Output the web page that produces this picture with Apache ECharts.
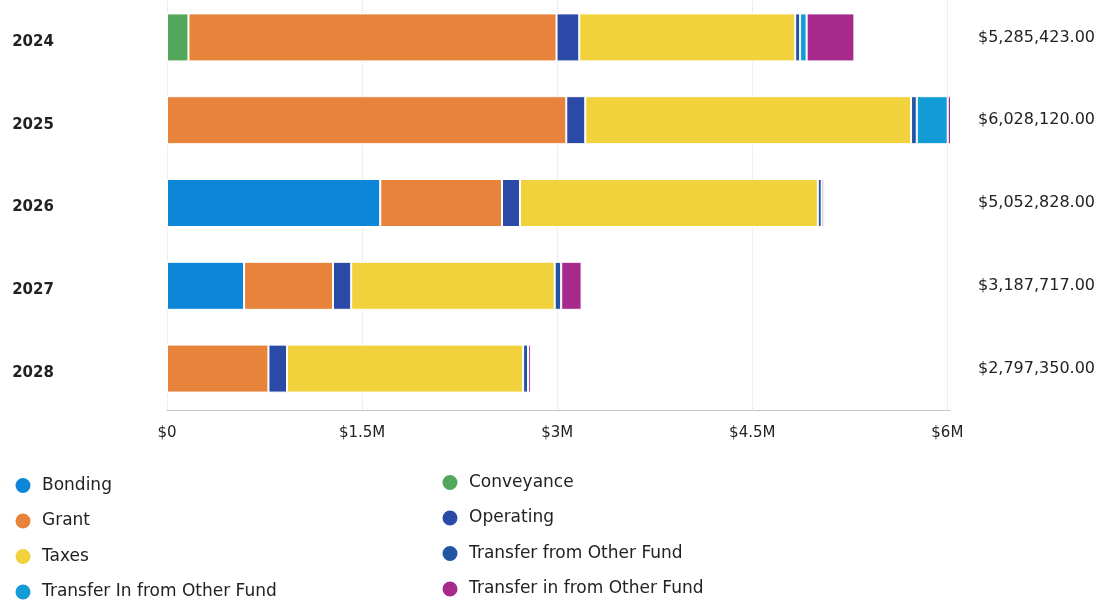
<!DOCTYPE html>
<html>
<head>
<meta charset="utf-8">
<script src="https://cdn.jsdelivr.net/npm/echarts@6/dist/echarts.min.js"></script>
<style>
  html, body { margin: 0; padding: 0; background: #fff; overflow: hidden; }
  /* shifted up so the first bar can sit a few px above the grid's natural top */
  #chart { width: 1101px; height: 614px; margin-top: -10px; }
</style>
</head>
<body>
<div id="chart"></div>
<script>
// categories and values
const years = ['2024', '2025', '2026', '2027', '2028']
const totals = [5285423, 6028120, 5052828, 3187717, 2797350]

const bonding = [0, 0, 1640000, 593000, 0]
const conveyance = [165000, 0, 0, 0, 0]
const grant = [2830000, 3070000, 936000, 683000, 780000]
const operating = [175000, 146000, 138000, 140000, 143000]
const taxes = [1660000, 2505000, 2290000, 1565000, 1815000]
const transferFrom = [38000, 44000, 30000, 50000, 38000]
const transferInUpper = [50000, 238000, 0, 0, 0]
const transferInLower = [367423, 25120, 18828, 156717, 21350]

const xTicks = ['$0', '$1.5M', '$3M', '$4.5M', '$6M']

const seriesList = [
  { name: 'Bonding', data: bonding, color: '#0e86d8' },
  { name: 'Conveyance', data: conveyance, color: '#52a75b' },
  { name: 'Grant', data: grant, color: '#e7833b' },
  { name: 'Operating', data: operating, color: '#2b49a6' },
  { name: 'Taxes', data: taxes, color: '#f1d13c' },
  { name: 'Transfer from Other Fund', data: transferFrom, color: '#1f55a3' },
  { name: 'Transfer In from Other Fund', data: transferInUpper, color: '#129cd6' },
  { name: 'Transfer in from Other Fund', data: transferInLower, color: '#a6298b' }
]

const fontFamily = "'DejaVu Sans', sans-serif"
const textColor = '#222'

function money(v) {
  return '$' + v.toLocaleString('en-US', { minimumFractionDigits: 2, maximumFractionDigits: 2 })
}

const legendBase = {
  orient: 'vertical',
  icon: 'circle',
  padding: 0,
  itemWidth: 28,
  itemHeight: 17,
  itemGap: 16.5,
  height: 140,
  textStyle: { fontSize: 17, color: textColor, fontFamily: fontFamily }
}

const chart = echarts.init(document.getElementById('chart'))

chart.setOption({
  animation: false,
  textStyle: { fontFamily: fontFamily },
  grid: {
    left: 167,
    right: 150,
    top: 6,
    height: 414
  },
  legend: [
    Object.assign({}, legendBase, {
      left: 13.5,
      top: 486,
      data: ['Bonding', 'Grant', 'Taxes', 'Transfer In from Other Fund']
    }),
    Object.assign({}, legendBase, {
      left: 440.5,
      top: 483,
      data: ['Conveyance', 'Operating', 'Transfer from Other Fund', 'Transfer in from Other Fund']
    })
  ],
  xAxis: {
    type: 'value',
    min: 0,
    max: 'dataMax',
    interval: 1500000,
    axisLine: { show: true, lineStyle: { color: '#bbb', type: 'dotted', width: 1 } },
    axisTick: { show: false },
    splitLine: {
      show: true,
      showMaxLine: false,
      lineStyle: { color: '#ddd', type: 'dotted' }
    },
    axisLabel: {
      margin: 16,
      fontSize: 15,
      color: textColor,
      showMaxLabel: false,
      formatter: function (v) {
        return xTicks[Math.round(v / 1500000)] || ''
      }
    }
  },
  yAxis: [
    {
      type: 'category',
      data: years,
      inverse: true,
      axisLine: { show: false },
      axisTick: { show: false },
      axisLabel: {
        align: 'center',
        verticalAlign: 'top',
        lineHeight: 9,
        margin: 134,
        fontSize: 15,
        fontWeight: 'bold',
        color: textColor
      }
    },
    {
      type: 'category',
      data: totals.map(money),
      inverse: true,
      position: 'right',
      axisLine: { show: false },
      axisTick: { show: false },
      axisLabel: {
        align: 'right',
        margin: 144,
        fontSize: 16,
        color: textColor,
        padding: [0, 0, 4, 0]
      }
    }
  ],
  series: seriesList.map(s => ({
    name: s.name,
    type: 'bar',
    stack: 'total',
    barWidth: 48,
    data: s.data,
    itemStyle: {
      color: s.color,
      borderColor: '#fff',
      borderWidth: 1
    }
  }))
})
</script>
</body>
</html>
